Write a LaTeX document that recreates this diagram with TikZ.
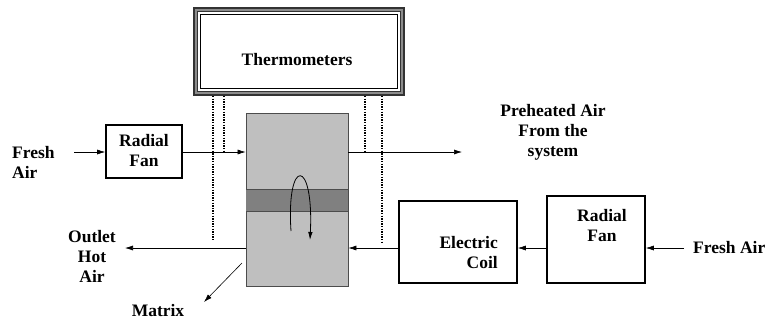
\documentclass[tikz,border=0pt]{standalone}
\usepackage{fontspec}
\setmainfont{Liberation Serif}
\usetikzlibrary{arrows.meta}
\begin{document}
\begin{tikzpicture}[x=1pt,y=-1pt,
  lbl/.style={font=\fontsize{17.5}{20}\selectfont\bfseries, align=center, inner sep=0pt},
  boxn/.style={draw, line width=1.6pt, fill=white},
  flow/.style={line width=0.6pt, -{Latex[length=8pt,width=5pt]}},
  dots/.style={line width=1.3pt, dash pattern=on 1.3pt off 1.3pt}]
\useasboundingbox (0,0) rectangle (767,322);
% Thermometers triple box
\draw[line width=1.2pt, draw=black!80, fill=black!45] (194,8) rectangle (404,95);
\draw[line width=1pt, draw=black!80, fill=white] (197.5,11.5) rectangle (400.5,91.5);
\draw[line width=0.9pt] (200.5,14.5) rectangle (397.5,88.5);
\node[lbl] (th) at (297,60) {Thermometers};
% matrix
\node[draw=black!70, line width=0.8pt, fill=black!25, minimum width=102pt, minimum height=173pt, inner sep=0pt] (mx) at (297,199.5) {};
\fill[black!50] (246,189) rectangle (348,211);
\draw[black!70, line width=0.8pt] (246,189) -- (348,189) (246,211) -- (348,211);
\draw[line width=0.8pt, -{Latex[length=8pt,width=4.5pt]}] (291,231) .. controls (286,157) and (314,157) .. (310,240);
% dotted lines
\draw[dots] (213,96) -- (213,240);
\draw[dots] (224,96) -- (224,152);
\draw[dots] (365,96) -- (365,152);
\draw[dots] (382,96) -- (382,243);
% left fan
\node[boxn, minimum width=76pt, minimum height=53pt, inner sep=0pt] (lf) at (144,151.5) {};
\node[lbl] at (144,151) {Radial\\Fan};
\node[lbl, align=left, anchor=west] (fa1) at (12,162) {Fresh\\Air};
\coordinate (fa1e) at (74,152);
\draw[flow] (fa1e) -- (lf.west |- fa1e);
\draw[flow] (lf.east |- fa1e) -- (mx.west |- fa1e);
% preheated
\coordinate (pa) at (462,152);
\draw[flow] (mx.east |- pa) -- (pa);
\node[lbl] (ph) at (553,132) {Preheated Air\\From the\\system};
% right side
\node[boxn, minimum width=118pt, minimum height=82pt, inner sep=0pt] (ec) at (458,242) {};
\node[lbl, align=right, anchor=east] at (498,253) {Electric\\Coil};
\node[boxn, minimum width=98pt, minimum height=87pt, inner sep=0pt] (rf) at (596,239.5) {};
\node[lbl] at (602,226) {Radial\\Fan};
\node[lbl, anchor=west] (fa2) at (693,248) {Fresh Air};
\coordinate (fa2s) at (684,248);
\draw[flow] (fa2s) -- (rf.east |- fa2s);
\draw[flow] (rf.west |- fa2s) -- (ec.east |- fa2s);
\draw[flow] (ec.west |- fa2s) -- (mx.east |- fa2s);
\coordinate (out) at (125,248);
\draw[flow] (mx.west |- fa2s) -- (out);
\node[lbl] (oh) at (92,256) {Outlet\\Hot\\Air};
% matrix label
\coordinate (ms) at (242,263);
\coordinate (me) at (204,302);
\draw[flow] (ms) -- (me);
\node[lbl] (ml) at (158,311) {Matrix};
\end{tikzpicture}
\end{document}
